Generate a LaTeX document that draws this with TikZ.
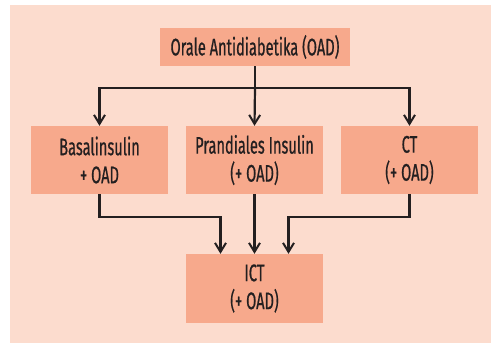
\documentclass[tikz,border=0pt]{standalone}
\usepackage{fontspec}
\setmainfont{Fira Sans}[FakeStretch=0.61,FakeBold=0.6]
\definecolor{panel}{HTML}{FCDCCE}
\definecolor{boxc}{HTML}{F7A98C}
\definecolor{ink}{HTML}{231F20}
\usetikzlibrary{arrows.meta}
\begin{document}
\begin{tikzpicture}[x=1pt,y=-1pt,
  boxn/.style={fill=boxc, draw=none, minimum width=137pt, minimum height=68pt, inner sep=0pt, align=center, text=ink, font=\fontsize{24}{28}\selectfont},
  conn/.style={draw=ink, line width=2.2pt, -{Straight Barb[length=9pt,width=11pt,line width=2pt]}}]
\useasboundingbox (0,0) rectangle (491,343);
\fill[white] (0,0) rectangle (491,343);
\fill[panel] (10,5) rectangle (491,343);
\node[boxn, minimum width=190pt, minimum height=38pt] (oad) at (255,47) {Orale Antidiabetika (OAD)};
\node[boxn] (basal) at (99.5,160) {Basalinsulin\\+ OAD};
\node[boxn] (prand) at (254.5,160) {Prandiales Insulin\\(+ OAD)};
\node[boxn] (ct) at (409.5,160) {CT\\(+ OAD)};
\node[boxn, minimum height=69pt] (ict) at (254.5,288.5) {ICT\\(+ OAD)};
\coordinate (split) at (255,88);
\coordinate (lbend) at (99.5,217);
\coordinate (rbend) at (409.5,217);
\draw[draw=ink, line width=2.2pt] (oad.south) -- (split);
\draw[conn] (split) -| (basal.north);
\draw[conn] (split) -- (prand.north);
\draw[conn] (split) -| (ct.north);
\draw[conn] (basal.south) -- (lbend) -| ([xshift=-34pt]ict.north);
\draw[conn] (prand.south) -- (ict.north);
\draw[conn] (ct.south) -- (rbend) -| ([xshift=34pt]ict.north);
\end{tikzpicture}
\end{document}
